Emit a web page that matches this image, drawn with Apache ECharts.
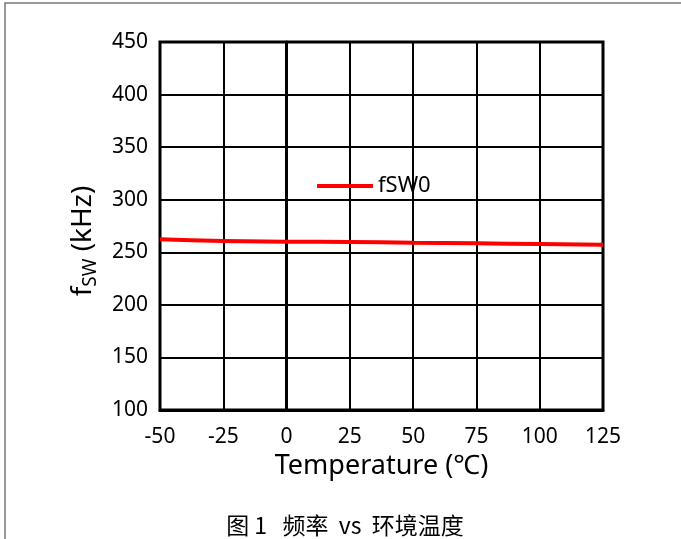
<!DOCTYPE html>
<html><head><meta charset="utf-8">
<script src="https://cdn.jsdelivr.net/npm/echarts@6/dist/echarts.min.js"></script>
<style>html,body{margin:0;padding:0;background:#fff}#c{width:681px;height:539px}</style>
</head><body><div id="c"></div>
<script>
const temps = [-50, -25, 0, 25, 50, 75, 100, 125];
const fsw0 = [262.4, 260.7, 260.1, 259.8, 259.1, 258.5, 257.9, 257.2];
const xTicks = [-50, 125, 25];
const yTicks = [100, 450, 50];
const caption = '图 1   频率  vs  环境温度';
const font = '"Noto Sans", "Noto Sans CJK SC", sans-serif';
const chart = echarts.init(document.getElementById('c'));
chart.setOption({
  animation: false,
  grid: {left: 160, right: 78, top: 42, bottom: 129, show: true, borderColor: '#000', borderWidth: 3},
  legend: {
    data: ['fSW0'], left: 312, top: 170, itemWidth: 56, itemHeight: 4, itemGap: 6,
    icon: 'rect',
    textStyle: {fontSize: 22, color: '#000', fontFamily: font}
  },
  xAxis: {
    type: 'value', min: xTicks[0], max: xTicks[1], interval: xTicks[2],
    name: 'Temperature (℃)', nameLocation: 'middle', nameGap: 38,
    nameTextStyle: {fontSize: 27, color: '#000', fontFamily: font},
    axisLine: {show: true, lineStyle: {color: '#000', width: 3}},
    axisTick: {show: false},
    axisLabel: {fontSize: 21, color: '#000', fontFamily: font, margin: 17},
    splitLine: {show: true, lineStyle: {color: '#000', width: 2}}
  },
  yAxis: {
    type: 'value', min: yTicks[0], max: yTicks[1], interval: yTicks[2],
    name: '{a|f}{b|SW}{a| (kHz)}', nameLocation: 'middle', nameGap: 60, nameRotate: 90,
    nameTextStyle: {
      fontFamily: font, color: '#000', padding: [0, 30, 0, 0],
      rich: {a: {fontSize: 28, color: '#000', fontFamily: font},
             b: {fontSize: 19, color: '#000', fontFamily: font, padding: [14, 0, 0, 0]}}
    },
    axisLine: {show: true, lineStyle: {color: '#000', width: 3}},
    axisTick: {show: false},
    axisLabel: {fontSize: 21, color: '#000', fontFamily: font, margin: 12},
    splitLine: {show: true, lineStyle: {color: '#000', width: 2}}
  },
  series: [{
    name: 'fSW0', type: 'line', data: temps.map((t, i) => [t, fsw0[i]]),
    showSymbol: false, symbol: 'none', smooth: true,
    lineStyle: {color: '#ff0000', width: 4}, itemStyle: {color: '#ff0000'}
  }],
  graphic: [
    {type: 'rect', shape: {x: 5, y: 3, width: 720, height: 600}, style: {fill: 'none', stroke: '#777', lineWidth: 1.5}},
    {type: 'text', x: 345, y: 525, style: {text: caption, fontSize: 23, fill: '#000', align: 'center', verticalAlign: 'middle', fontFamily: '"Noto Sans CJK SC", sans-serif'}}
  ]
});
</script></body></html>
